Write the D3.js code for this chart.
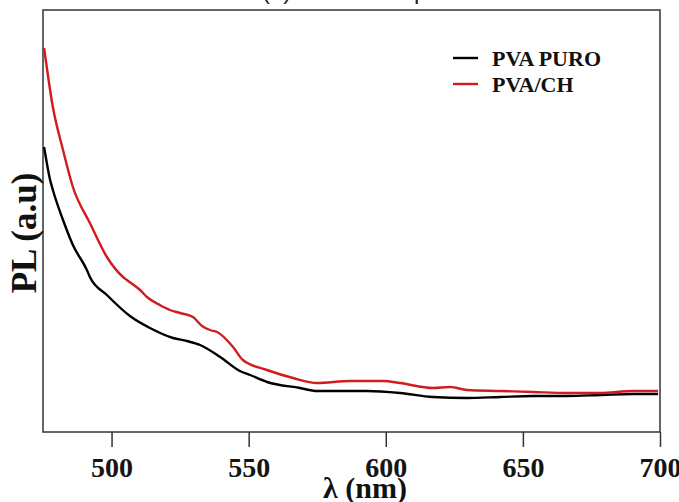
<!DOCTYPE html>
<html lang="en">
  <head>
    <meta charset="UTF-8" />
    <title>PL spectra</title>
    <script src="https://d3js.org/d3.v7.min.js"></script>
    <style>
      body {
        margin: 0;
        background: #fff;
      }
      .axis text {
        font-family: "Liberation Serif", "Times New Roman", serif;
        font-size: 28px;
        font-weight: bold;
        fill: #151515;
      }
      .label {
        font-family: "Liberation Serif", "Times New Roman", serif;
        font-weight: bold;
        fill: #111;
      }
      .legend text {
        font-family: "Liberation Serif", "Times New Roman", serif;
        font-weight: bold;
        font-size: 22px;
        fill: #111;
      }
    </style>
  </head>
  <body>
    <div id="chart"></div>

    <script>
      // wavelength (nm) and PL intensity (a.u.)
      const puroNm = [475.4, 477.6, 478.6, 482.3, 485.9, 491.0, 492.1, 498.3, 506.7, 514.0,
        522.4, 527.5, 532.3, 539.6, 546.8, 550.5, 556.7, 568.7, 574.9, 580.8,
        593.2, 605.2, 617.2, 629.6, 641.7, 653.7, 666.1, 678.1, 690.2, 699.3];
      const puroPL = [285, 252, 242, 212, 187, 162, 155, 137, 116, 104,
        94, 91, 87, 75, 61, 57, 50, 44, 41, 41,
        41, 39, 35, 34, 35, 36, 36, 37, 38, 38];

      const chNm = [475.4, 478.6, 482.3, 485.9, 492.1, 498.3, 504.2, 505.6, 510.4, 512.9,
        517.6, 521.3, 525.0, 529.7, 533.0, 535.9, 538.5, 544.3, 547.9, 556.7,
        566.2, 574.9, 587.0, 599.0, 605.2, 617.2, 623.4, 629.6, 641.7, 653.7,
        666.1, 678.1, 690.2, 699.3];
      const chPL = [384, 325, 282, 245, 209, 175, 155, 152, 142, 135,
        127, 122, 119, 115, 106, 102, 100, 85, 72, 62,
        54, 49, 51, 51, 49, 44, 45, 42, 41, 40,
        39, 39, 41, 41];

      const xTicks = [500, 550, 600, 650, 700];
      const seriesNames = ["PVA PURO", "PVA/CH"];
      const seriesColors = ["#000000", "#d01c1f"];

      const width = 679;
      const height = 502;
      const margin = { top: 10, right: 19, bottom: 70, left: 43 };

      const svg = d3
        .select("#chart")
        .append("svg")
        .attr("width", width)
        .attr("height", height);

      const x = d3
        .scaleLinear()
        .domain([475, 700])
        .range([margin.left, width - margin.right]);

      const y = d3
        .scaleLinear()
        .domain([0, 422])
        .range([height - margin.bottom, margin.top]);

      // partly hidden title at the very top
      svg
        .append("text")
        .attr("x", 262)
        .attr("y", -1)
        .attr("font-family", "Liberation Sans, Arial, sans-serif")
        .attr("font-size", 24)
        .attr("fill", "#222")
        .text("(b) Emission spectra");

      const xAxis = svg
        .append("g")
        .attr("class", "axis")
        .attr("transform", `translate(0,${height - margin.bottom})`)
        .call(d3.axisBottom(x).tickValues(xTicks).tickSize(15).tickPadding(10));
      xAxis.select(".domain").remove();
      xAxis.selectAll(".tick line").attr("stroke", "#333").attr("stroke-width", 1.5);

      // frame
      svg
        .append("rect")
        .attr("x", margin.left)
        .attr("y", margin.top)
        .attr("width", width - margin.left - margin.right)
        .attr("height", height - margin.top - margin.bottom)
        .attr("fill", "none")
        .attr("stroke", "#333")
        .attr("stroke-width", 1.5);

      const line = d3
        .line()
        .x((d) => x(d[0]))
        .y((d) => y(d[1]))
        .curve(d3.curveMonotoneX);

      const series = [
        d3.zip(puroNm, puroPL),
        d3.zip(chNm, chPL),
      ];

      svg
        .append("g")
        .selectAll("path")
        .data(series)
        .join("path")
        .attr("d", line)
        .attr("fill", "none")
        .attr("stroke", (d, i) => seriesColors[i])
        .attr("stroke-width", 2.4)
        .attr("stroke-linejoin", "round");

      // axis titles
      svg
        .append("text")
        .attr("class", "label")
        .attr("x", 365)
        .attr("y", 498)
        .attr("text-anchor", "middle")
        .attr("font-size", 30)
        .text("λ (nm)");

      svg
        .append("text")
        .attr("class", "label")
        .attr("transform", "translate(36,233) rotate(-90)")
        .attr("text-anchor", "middle")
        .attr("font-size", 35)
        .text("PL (a.u)");

      // legend
      const legend = svg
        .append("g")
        .attr("class", "legend")
        .selectAll("g")
        .data(seriesNames)
        .join("g")
        .attr("transform", (d, i) => `translate(453,${58 + i * 26})`);

      legend
        .append("line")
        .attr("x1", 0)
        .attr("x2", 25)
        .attr("stroke", (d, i) => seriesColors[i])
        .attr("stroke-width", 2.4);

      legend
        .append("text")
        .attr("x", 39)
        .attr("y", 8)
        .text((d) => d);
    </script>
  </body>
</html>
